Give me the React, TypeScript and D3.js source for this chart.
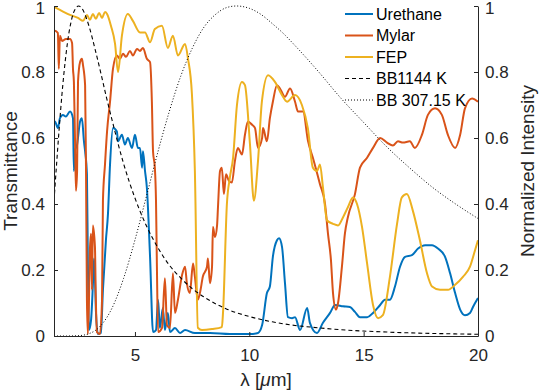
import React, { useEffect, useRef } from 'react';
import * as d3 from 'd3';

// [wavelength in um, transmittance]
const urethane: [number, number][] = [
  [1.46, 0.65], [1.5, 0.65], [1.63, 0.63], [1.72, 0.66], [1.85, 0.67], [1.98, 0.665], [2.16, 0.68],
  [2.29, 0.66], [2.33, 0.5], [2.38, 0.56], [2.47, 0.58], [2.6, 0.65], [2.68, 0.66], [2.77, 0.59],
  [2.82, 0.56], [2.9, 0.49], [2.94, 0.23], [2.99, 0.018], [3.08, 0.048], [3.16, 0.154], [3.21, 0.235],
  [3.25, 0.18], [3.29, 0.08], [3.38, 0.006], [3.51, 0.009], [3.6, 0.14], [3.73, 0.29], [3.82, 0.37],
  [3.91, 0.52], [4.04, 0.63], [4.21, 0.62], [4.26, 0.59], [4.43, 0.61], [4.56, 0.58], [4.69, 0.6],
  [4.87, 0.57], [5.0, 0.61], [5.13, 0.57], [5.22, 0.57], [5.31, 0.51], [5.35, 0.56], [5.44, 0.5],
  [5.52, 0.45], [5.66, 0.24], [5.79, 0.012], [5.92, 0.018], [6.01, 0.11], [6.09, 0.024], [6.22, 0.085],
  [6.31, 0.018], [6.44, 0.07], [6.53, 0.012], [6.75, 0.024], [6.97, 0.009], [7.19, 0.018], [7.62, 0.009],
  [8.28, 0.009], [9.15, 0.006], [10.03, 0.006], [10.38, 0.009], [10.56, 0.033], [10.77, 0.13], [10.9, 0.15],
  [11.03, 0.24], [11.21, 0.29], [11.3, 0.296], [11.43, 0.27], [11.56, 0.16], [11.69, 0.057], [11.87, 0.054],
  [12.0, 0.057], [12.22, 0.018], [12.53, 0.085], [12.65, 0.04], [12.96, 0.009], [13.22, 0.04], [13.53, 0.07],
  [13.75, 0.094], [14.1, 0.09], [14.4, 0.088], [14.62, 0.073], [14.84, 0.057], [15.15, 0.057], [15.41, 0.07],
  [15.72, 0.094], [15.93, 0.11], [16.15, 0.11], [16.37, 0.15], [16.59, 0.21], [16.81, 0.24], [17.11, 0.245],
  [17.38, 0.265], [17.69, 0.275], [17.99, 0.275], [18.25, 0.265], [18.56, 0.24], [18.78, 0.19], [19.0, 0.13],
  [19.22, 0.08], [19.43, 0.063], [19.65, 0.07], [19.78, 0.088], [20.0, 0.115],
];

const mylar: [number, number][] = [
  [1.46, 0.925], [1.5, 0.925], [1.63, 0.918], [1.67, 0.81], [1.72, 0.91], [1.81, 0.894], [1.98, 0.9],
  [2.16, 0.9], [2.25, 0.888], [2.29, 0.81], [2.33, 0.77], [2.38, 0.59], [2.42, 0.44], [2.47, 0.5],
  [2.51, 0.77], [2.6, 0.83], [2.68, 0.84], [2.73, 0.82], [2.82, 0.76], [2.86, 0.5], [2.9, 0.11],
  [2.94, 0.006], [2.99, 0.11], [3.03, 0.26], [3.08, 0.31], [3.12, 0.14], [3.16, 0.335], [3.25, 0.27],
  [3.29, 0.11], [3.34, 0.012], [3.47, 0.006], [3.56, 0.11], [3.6, 0.41], [3.69, 0.52], [3.78, 0.62],
  [3.91, 0.71], [4.04, 0.81], [4.21, 0.85], [4.34, 0.84], [4.48, 0.855], [4.61, 0.846], [4.78, 0.864],
  [4.91, 0.85], [5.09, 0.87], [5.22, 0.864], [5.35, 0.873], [5.52, 0.84], [5.66, 0.83], [5.74, 0.71],
  [5.79, 0.56], [5.87, 0.51], [5.92, 0.41], [5.96, 0.21], [6.01, 0.012], [6.18, 0.024], [6.31, 0.175],
  [6.4, 0.033], [6.53, 0.024], [6.66, 0.19], [6.75, 0.07], [6.88, 0.11], [7.06, 0.185], [7.19, 0.21],
  [7.27, 0.16], [7.4, 0.13], [7.54, 0.22], [7.62, 0.18], [7.75, 0.11], [7.84, 0.13], [7.97, 0.18],
  [8.15, 0.21], [8.19, 0.235], [8.28, 0.16], [8.37, 0.21], [8.41, 0.33], [8.5, 0.3], [8.59, 0.335],
  [8.63, 0.39], [8.72, 0.5], [8.8, 0.51], [8.89, 0.43], [8.98, 0.49], [9.11, 0.47], [9.24, 0.465],
  [9.37, 0.53], [9.5, 0.57], [9.68, 0.55], [9.81, 0.61], [9.94, 0.65], [10.12, 0.64], [10.25, 0.63],
  [10.38, 0.57], [10.56, 0.6], [10.6, 0.63], [10.77, 0.59], [10.9, 0.66], [11.03, 0.71], [11.21, 0.76],
  [11.34, 0.75], [11.56, 0.725], [11.78, 0.75], [12.0, 0.71], [12.13, 0.68], [12.35, 0.68], [12.57, 0.59],
  [12.78, 0.54], [13.09, 0.46], [13.31, 0.4], [13.44, 0.31], [13.57, 0.23], [13.66, 0.13], [13.79, 0.08],
  [13.88, 0.1], [14.05, 0.21], [14.18, 0.31], [14.31, 0.36], [14.62, 0.43], [14.84, 0.51], [15.15, 0.54],
  [15.41, 0.57], [15.72, 0.6], [16.02, 0.586], [16.28, 0.577], [16.5, 0.59], [16.72, 0.586], [17.02, 0.59],
  [17.24, 0.57], [17.55, 0.61], [17.81, 0.67], [18.12, 0.69], [18.42, 0.67], [18.68, 0.61], [19.0, 0.57],
  [19.22, 0.61], [19.43, 0.69], [19.74, 0.72], [20.0, 0.71],
];

const fep: [number, number][] = [
  [1.46, 0.997], [1.72, 0.988], [2.16, 0.973], [2.51, 0.964], [2.73, 0.955], [2.9, 0.973], [3.03, 0.958],
  [3.16, 0.976], [3.29, 0.961], [3.43, 0.979], [3.56, 0.964], [3.69, 0.982], [3.78, 0.976], [3.95, 0.94],
  [4.13, 0.885], [4.26, 0.8], [4.43, 0.91], [4.69, 0.976], [4.91, 0.955], [5.22, 0.92], [5.44, 0.92],
  [5.66, 0.89], [5.87, 0.93], [6.18, 0.94], [6.44, 0.873], [6.66, 0.91], [6.88, 0.85], [7.19, 0.885],
  [7.32, 0.84], [7.49, 0.734], [7.62, 0.5], [7.75, 0.025], [7.93, 0.018], [8.37, 0.021], [8.8, 0.027],
  [8.85, 0.07], [9.02, 0.4], [9.15, 0.48], [9.29, 0.54], [9.46, 0.7], [9.68, 0.77], [9.81, 0.76],
  [10.03, 0.58], [10.2, 0.41], [10.38, 0.53], [10.55, 0.71], [10.82, 0.79], [11.12, 0.77], [11.43, 0.73],
  [11.65, 0.71], [12.0, 0.73], [12.3, 0.7], [12.56, 0.63], [12.78, 0.51], [12.96, 0.5], [13.09, 0.52],
  [13.22, 0.45], [13.4, 0.35], [13.66, 0.34], [13.88, 0.335], [14.1, 0.36], [14.31, 0.39], [14.53, 0.42],
  [14.71, 0.4], [14.93, 0.33], [15.15, 0.22], [15.41, 0.094], [15.63, 0.054], [15.84, 0.063], [16.15, 0.18],
  [16.46, 0.34], [16.67, 0.42], [16.89, 0.43], [17.15, 0.38], [17.46, 0.29], [17.77, 0.19], [17.99, 0.15],
  [18.34, 0.14], [18.69, 0.14], [19.0, 0.155], [19.35, 0.18], [19.65, 0.21], [19.87, 0.26], [20.0, 0.29],
];

// normalized blackbody intensity
const bb1144: [number, number][] = [
  [1.46, 0.41], [1.6, 0.547], [1.7, 0.641], [1.8, 0.726], [1.9, 0.8], [2.0, 0.862], [2.1, 0.913],
  [2.2, 0.95], [2.3, 0.977], [2.4, 0.992], [2.53, 1.0], [2.7, 0.991], [2.85, 0.968], [3.0, 0.937],
  [3.25, 0.871], [3.5, 0.799], [3.75, 0.724], [4.0, 0.654], [4.5, 0.523], [5.0, 0.418], [5.5, 0.334],
  [6.0, 0.268], [6.5, 0.215], [7.0, 0.176], [7.5, 0.144], [8.0, 0.119], [9.0, 0.082], [10, 0.059],
  [11, 0.043], [12, 0.032], [13, 0.025], [14, 0.019], [15, 0.015], [16, 0.012], [17, 0.0095],
  [18, 0.0078], [19, 0.0064], [20, 0.0053],
];

const bb307: [number, number][] = [
  [1.46, 0], [2.0, 0], [2.5, 0.0008], [3.0, 0.0073], [3.5, 0.031], [4.0, 0.085], [4.5, 0.174],
  [5.0, 0.291], [5.5, 0.423], [6.0, 0.557], [6.5, 0.68], [7.0, 0.787], [7.5, 0.871], [8.0, 0.934],
  [8.5, 0.973], [9.0, 0.995], [9.435, 1.0], [10, 0.993], [10.5, 0.975], [11, 0.947], [11.5, 0.916],
  [12, 0.88], [13, 0.803], [14, 0.721], [15, 0.647], [16, 0.574], [17, 0.51], [18, 0.451],
  [19, 0.401], [20, 0.356],
];

const xTicks = [5, 10, 15, 20];
const yTicks = [0, 0.2, 0.4, 0.6, 0.8, 1];
const yTickLabels = ['0', '0.2', '0.4', '0.6', '0.8', '1'];
const seriesNames = ['Urethane', 'Mylar', 'FEP', 'BB1144 K', 'BB 307.15 K'];

const FONT = "'Liberation Sans', Arial, Helvetica, sans-serif";
const AXIS_COLOR = '#262626';

export default function App() {
  const ref = useRef<SVGSVGElement>(null);

  useEffect(() => {
    const W = 540;
    const H = 392;
    const margin = { top: 6, right: 62, bottom: 56, left: 54 };
    const width = W - margin.left - margin.right;
    const height = H - margin.top - margin.bottom;

    const svg = d3.select(ref.current);
    svg.selectAll('*').remove();
    const g = svg.append('g').attr('transform', `translate(${margin.left},${margin.top})`);

    const x = d3.scaleLinear().domain([1.46, 20]).range([0, width]);
    const yL = d3.scaleLinear().domain([0, 1]).range([height, 0]);
    const yR = d3.scaleLinear().domain([0, 1]).range([height, 0]);

    svg.append('defs').append('clipPath').attr('id', 'plot-clip')
      .append('rect').attr('y', -2).attr('width', width).attr('height', height + 2);

    const series = [
      { data: urethane, color: '#0072BD', width: 2, dash: null, y: yL },
      { data: mylar, color: '#D95319', width: 2, dash: null, y: yL },
      { data: fep, color: '#EDB120', width: 2, dash: null, y: yL },
      { data: bb1144, color: '#000', width: 1.1, dash: '4,3', y: yR },
      { data: bb307, color: '#000', width: 1, dash: '1,2', y: yR },
    ];

    const plot = g.append('g').attr('clip-path', 'url(#plot-clip)');
    series.forEach((s) => {
      const line = d3.line<[number, number]>()
        .curve(d3.curveMonotoneX)
        .x((d) => x(d[0]))
        .y((d) => s.y(d[1]));
      plot.append('path')
        .datum(s.data)
        .attr('fill', 'none')
        .attr('stroke', s.color)
        .attr('stroke-width', s.width)
        .attr('stroke-linejoin', 'round')
        .attr('stroke-dasharray', s.dash)
        .attr('d', line);
    });

    // axes, ticks point inward like matlab
    const styleAxis = (sel) => {
      sel.select('.domain').attr('stroke', AXIS_COLOR);
      sel.selectAll('.tick line').attr('stroke', AXIS_COLOR);
      sel.selectAll('.tick text').attr('fill', AXIS_COLOR).attr('font-size', 17).attr('font-family', FONT);
    };

    g.append('g')
      .attr('transform', `translate(0,${height})`)
      .call(d3.axisBottom(x).tickValues(xTicks).tickSizeInner(-4).tickSizeOuter(0).tickPadding(13))
      .call(styleAxis);

    const left = g.append('g')
      .call(d3.axisLeft(yL).tickValues(yTicks).tickFormat((d, i) => yTickLabels[i]).tickSizeInner(-4).tickSizeOuter(0).tickPadding(9))
      .call(styleAxis);

    const right = g.append('g')
      .attr('transform', `translate(${width},0)`)
      .call(d3.axisRight(yR).tickValues(yTicks).tickFormat((d, i) => yTickLabels[i]).tickSizeInner(-4).tickSizeOuter(0).tickPadding(7))
      .call(styleAxis);

    // keep the top labels inside the figure, as matlab does
    [left, right].forEach((a) => {
      a.selectAll('.tick text').filter((d) => d === 1).attr('dy', '0.45em');
    });

    // axis titles
    svg.append('text')
      .attr('transform', `translate(17,${margin.top + height / 2}) rotate(-90)`)
      .attr('text-anchor', 'middle')
      .attr('font-family', FONT)
      .attr('font-size', 19)
      .attr('fill', AXIS_COLOR)
      .text('Transmittance');

    svg.append('text')
      .attr('transform', `translate(534,${margin.top + height / 2}) rotate(-90)`)
      .attr('text-anchor', 'middle')
      .attr('font-family', FONT)
      .attr('font-size', 19)
      .attr('fill', AXIS_COLOR)
      .text('Normalized Intensity');

    const xl = svg.append('text')
      .attr('x', margin.left + width / 2)
      .attr('y', 386)
      .attr('text-anchor', 'middle')
      .attr('font-family', FONT)
      .attr('font-size', 19)
      .attr('fill', AXIS_COLOR);
    xl.append('tspan').text('λ [');
    xl.append('tspan').attr('font-style', 'italic').text('μ');
    xl.append('tspan').text('m]');

    // legend
    const legend = svg.append('g').attr('transform', 'translate(345,14)');
    series.forEach((s, i) => {
      const row = legend.append('g').attr('transform', `translate(0,${i * 21.5})`);
      row.append('line')
        .attr('x1', 0).attr('x2', 28)
        .attr('stroke', s.color)
        .attr('stroke-width', s.width)
        .attr('stroke-dasharray', s.dash);
      row.append('text')
        .attr('x', 31)
        .attr('dy', '0.36em')
        .attr('font-family', FONT)
        .attr('font-size', 16)
        .attr('fill', '#000')
        .text(seriesNames[i]);
    });
  }, []);

  return (
    <div>
      <style>{'body{margin:0}'}</style>
      <svg ref={ref} width={540} height={392} style={{ display: 'block', background: '#fff' }} />
    </div>
  );
}
